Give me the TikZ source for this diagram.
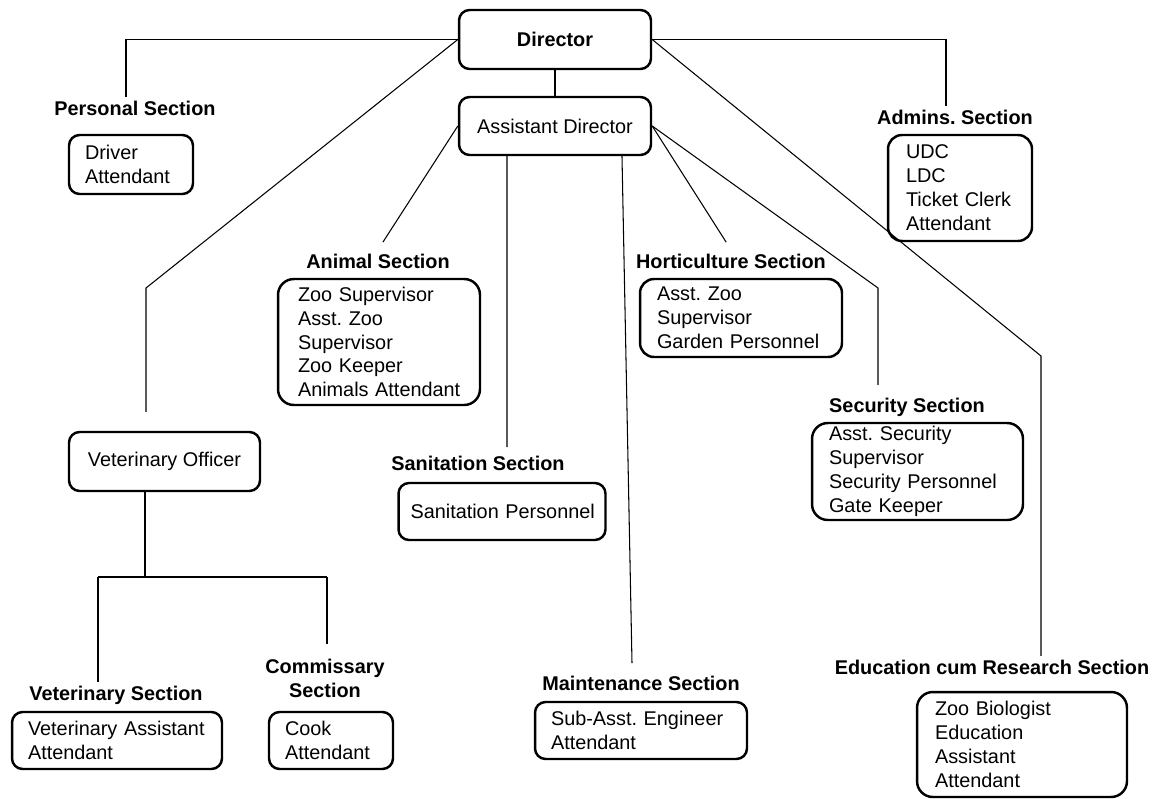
\documentclass[tikz,border=0pt]{standalone}
\usepackage{fontspec}
\setmainfont{Liberation Sans}
\frenchspacing
\begin{document}
\begin{tikzpicture}
  [x=0.02cm,y=-0.02cm,
   every node/.style={font=\fontsize{11.3}{13.6}\selectfont},
   post/.style={draw,line width=1.4pt,rounded corners=6pt,align=left,
     inner ysep=0pt,minimum height=1.14cm},
   staff/.style={post,inner xsep=0pt,
     execute at begin node={\leftskip=#1\hyphenpenalty=10000\relax}},
   staff/.default=0.32cm,
   chief/.style={post,align=center,minimum width=3.84cm,minimum height=1.18cm},
   sechead/.style={font=\fontsize{11.3}{13.6}\selectfont\bfseries,
     inner sep=2pt,anchor=base,align=center},
   link/.style={line width=0.6pt}]
  \useasboundingbox (0,0) rectangle (1163,798);

  % top posts
  \node[chief,font=\fontsize{11.3}{13.6}\selectfont\bfseries] (dir) at (555,39.5) {Director};
  \node[chief,minimum height=1.16cm] (ad) at (555,126) {Assistant Director};
  \node[chief,minimum width=3.82cm] (vo) at (164.5,461.5) {Veterinary Officer};

  % section headings
  \node[sechead] (perslbl)  at (135,115) {Personal Section};
  \node[sechead] (admlbl)   at (955,124) {Admins. Section};
  \node[sechead] (anilbl)   at (378,268) {Animal Section};
  \node[sechead] (hortlbl)  at (731,268) {Horticulture Section};
  \node[sechead] (securlbl) at (907,412) {Security Section};
  \node[sechead] (sanlbl)   at (478,470) {Sanitation Section};
  \node[sechead] (maintlbl) at (641,690) {Maintenance Section};
  \node[sechead] (vetlbl)   at (116,700) {Veterinary Section};
  \node[sechead,anchor=center] (commlbl) at (325,678) {Commissary\\Section};
  \node[sechead] (edulbl)   at (992,674) {Education cum Research Section};

  % staff boxes
  \node[staff,minimum height=1.18cm,text width=2.48cm]
    (drvbox) at (131,164.5) {Driver\\Attendant};
  \node[staff=0.36cm,rounded corners=8pt,minimum height=2.12cm,text width=2.88cm]
    (admbox) at (960,188) {UDC\\LDC\\Ticket Clerk\\Attendant};
  \node[staff=0.40cm,rounded corners=9pt,minimum height=2.52cm,text width=4.04cm]
    (anibox) at (379,342) {Zoo Supervisor\\Asst. Zoo\\Supervisor\\Zoo Keeper\\Animals Attendant};
  \node[staff=0.34cm,rounded corners=8pt,minimum height=1.56cm,text width=4.04cm]
    (hortbox) at (741,318) {Asst. Zoo\\Supervisor\\Garden Personnel};
  \node[staff=0.34cm,rounded corners=9pt,minimum height=1.94cm,text width=4.22cm]
    (securbox) at (917.5,471.5) {Asst. Security\\Supervisor\\Security Personnel\\Gate Keeper};
  \node[staff=0.24cm,text width=4.14cm]
    (sanbox) at (502,511.5) {\mbox{Sanitation Personnel}};
  \node[staff,text width=4.24cm]
    (maintbox) at (641,730.5) {Sub-Asst. Engineer\\Attendant};
  \node[staff,text width=4.2cm]
    (vetbox) at (117,740.5) {Veterinary Assistant\\Attendant};
  \node[staff,text width=2.48cm]
    (commbox) at (331,740.5) {Cook\\Attendant};
  \node[staff=0.36cm,rounded corners=9pt,minimum height=2.1cm,text width=4.2cm]
    (edubox) at (1022,744.5) {Zoo Biologist\\Education\\Assistant\\Attendant};

  % bends and loose ends
  \coordinate (vobend)   at (146,288);
  \coordinate (edubend)  at (1041,356);
  \coordinate (secbend)  at (878,288);
  \coordinate (santop)   at (507,447);
  \coordinate (mainttop) at (632,663);
  \coordinate (vofork)   at (145,577);
  \coordinate (vetleft)  at (98,577);
  \coordinate (commright) at (327,577);

  \draw[link] (dir) -- (ad);
  \draw[link] (dir.west) -| ([xshift=-0.18cm]perslbl.north);
  \draw[link,shorten >=0.38cm] (dir.west) -- (vobend) -- (vobend |- vo.north);
  \draw[link] (dir.east) -| ([xshift=-0.18cm]admlbl.north);
  \draw[link] (dir.east) -- (edubend) -- (edubend |- edulbl.north);

  \draw[link,shorten >=0.18cm] (ad.west) -- (anilbl.north);
  \draw[link] ([xshift=-0.96cm]ad.south) -- (santop);
  \draw[link] ([xshift=1.34cm]ad.south) -- (mainttop);
  \draw[link,shorten >=0.18cm] (ad.east) -- (hortlbl.north);
  \draw[link,shorten >=0.18cm] (ad.east) -- (secbend) -- (secbend |- securlbl.north);

  \draw[link] (vo.south -| vofork) -- (vofork);
  \draw[link] (vetleft) -- (commright);
  \draw[link] (vetleft) -- (vetleft |- vetlbl.north);
  \draw[link,shorten >=0.22cm] (commright) -- (commright |- commlbl.north);

\end{tikzpicture}
\end{document}
